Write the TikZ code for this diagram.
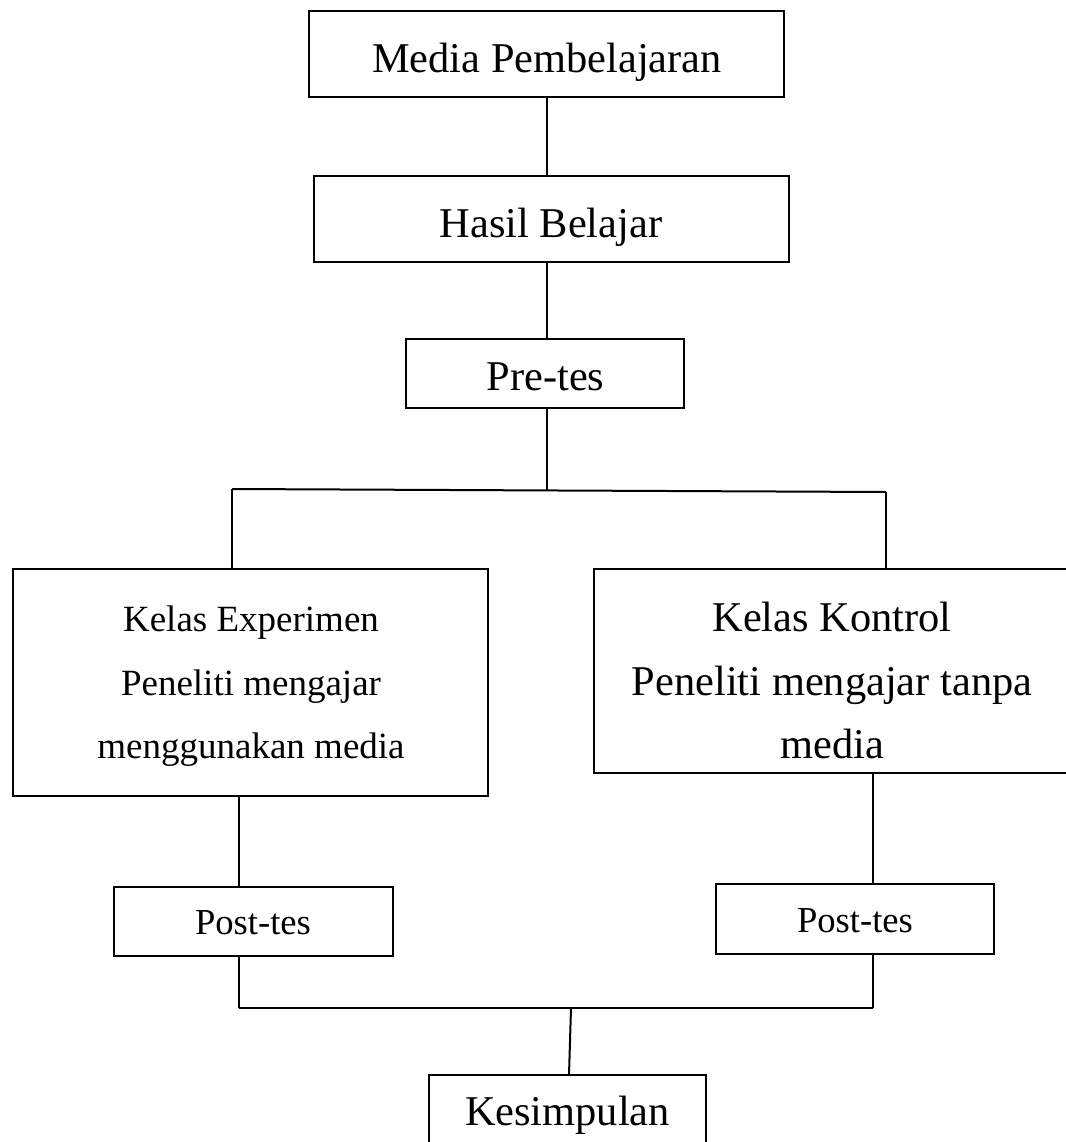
\documentclass[tikz,border=0pt]{standalone}
\usepackage{fontspec}
\setmainfont{Liberation Serif}
\begin{document}
\begin{tikzpicture}[x=1pt,y=-1pt,
  box/.style={draw=black, line width=2.6pt, rectangle, inner sep=0pt, outer sep=0pt},
  conn/.style={draw=black, line width=2pt},
  bigtxt/.style={inner sep=0pt, anchor=base, font=\fontsize{42.4}{50}\selectfont},
  midtxt/.style={inner sep=0pt, anchor=base, font=\fontsize{37}{44}\selectfont},
  smalltxt/.style={inner sep=0pt, anchor=base, font=\fontsize{36.6}{44}\selectfont}]
\useasboundingbox[fill=white] (0,0) rectangle (1065,1142);

% boxes
\node[box, minimum width=475pt, minimum height=86pt] (media) at (546.5,54) {};
\node[box, minimum width=475pt, minimum height=86pt] (hasil) at (551.5,219) {};
\node[box, minimum width=278pt, minimum height=69pt] (pre) at (545,373.5) {};
\node[box, minimum width=475pt, minimum height=227pt] (exp) at (250.5,682.5) {};
\node[box, minimum width=476pt, minimum height=204pt] (kon) at (832,671) {};
\node[box, minimum width=279pt, minimum height=69pt] (postL) at (253.5,921.5) {};
\node[box, minimum width=278pt, minimum height=70pt] (postR) at (855,919) {};
\node[box, minimum width=277pt, minimum height=100pt] (kes) at (567.5,1125) {};

% texts
\node[bigtxt] (mediaT) at (547,73) {Media Pembelajaran};
\node[bigtxt] (hasilT) at (551,237) {Hasil Belajar};
\node[bigtxt] (preT) at (545.5,390) {Pre-tes};
\node[midtxt] (expT1) at (251,631) {Kelas Experimen};
\node[midtxt] (expT2) at (251,695) {Peneliti mengajar};
\node[midtxt] (expT3) at (251,758) {menggunakan media};
\node[bigtxt] (konT1) at (832,631) {Kelas Kontrol};
\node[bigtxt] (konT2) at (832,695) {Peneliti mengajar tanpa};
\node[bigtxt] (konT3) at (832,758) {media};
\node[smalltxt] (postLT) at (253,934) {Post-tes};
\node[smalltxt] (postRT) at (855,932) {Post-tes};
\node[bigtxt] (kesT) at (567.5,1125) {Kesimpulan};

% junction coordinates
\coordinate (splitC) at (547,490);
\coordinate (splitL) at (232,489);
\coordinate (splitR) at (886,492);
\coordinate (joinL) at (239,1008);
\coordinate (joinR) at (873,1008);
\coordinate (joinC) at (571,1008);

% connectors
\draw[conn] (media.south) -- (media.south |- hasil.north);
\draw[conn] (hasil.south -| media.south) -- (pre.north -| media.south);
\draw[conn] (pre.south -| splitC) -- (splitC);
\draw[conn] (splitL) -- (splitR);
\draw[conn] (splitL) -- (splitL |- exp.north);
\draw[conn] (splitR) -- (splitR |- kon.north);
\draw[conn] (exp.south -| joinL) -- (postL.north -| joinL);
\draw[conn] (kon.south -| joinR) -- (postR.north -| joinR);
\draw[conn] (postL.south -| joinL) -- (joinL);
\draw[conn] (postR.south -| joinR) -- (joinR);
\draw[conn] (joinL) -- (joinR);
\draw[conn] (joinC) -- (kes.north -| 569,0);
\end{tikzpicture}
\end{document}
